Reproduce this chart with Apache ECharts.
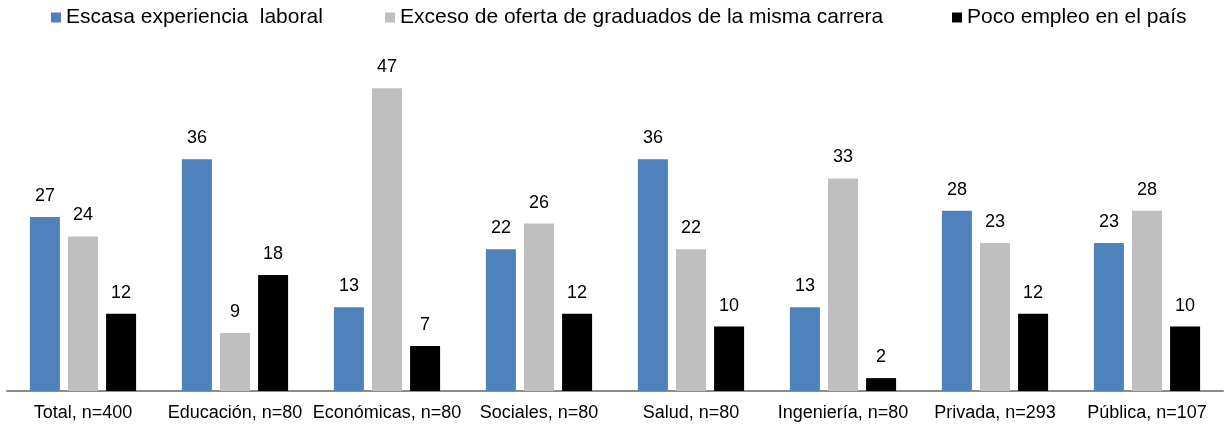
<!DOCTYPE html>
<html>
<head>
<meta charset="utf-8">
<script src="https://cdn.jsdelivr.net/npm/echarts@6/dist/echarts.min.js"></script>
<style>
  html, body { margin: 0; padding: 0; background: #fff; }
  #main { width: 1228px; height: 426px; }
</style>
</head>
<body>
<div id="main"></div>
<script>
// categorías y valores (%)
var categories = ['Total, n=400', 'Educación, n=80', 'Económicas, n=80', 'Sociales, n=80',
  'Salud, n=80', 'Ingeniería, n=80', 'Privada, n=293', 'Pública, n=107'];
var seriesNames = ['Escasa experiencia  laboral', 'Exceso de oferta de graduados de la misma carrera', 'Poco empleo en el país'];
var escasa = [27, 36, 13, 22, 36, 13, 28, 23];
var exceso = [24, 9, 47, 26, 22, 33, 23, 28];
var poco = [12, 18, 7, 12, 10, 2, 12, 10];

var colors = ['#4F81BD', '#BFBFBF', '#000000'];
var font = 'Arial, "Liberation Sans", sans-serif';

function legendAt(name, left) {
  return {
    data: [name],
    left: left,
    top: 2,
    itemWidth: 10,
    itemHeight: 10,
    itemGap: 0,
    icon: 'rect',
    textStyle: { fontFamily: font, fontSize: 21, color: '#000' }
  };
}

function makeSeries(name, data, color) {
  return {
    name: name,
    type: 'bar',
    data: data,
    barWidth: 30,
    barGap: '27%',
    itemStyle: { color: color },
    label: {
      show: true,
      position: 'top',
      distance: 12,
      fontFamily: font,
      fontSize: 18,
      color: '#000'
    }
  };
}

var chart = echarts.init(document.getElementById('main'));
chart.setOption({
  animation: false,
  legend: [
    legendAt(seriesNames[0], 46),
    legendAt(seriesNames[1], 380),
    legendAt(seriesNames[2], 947)
  ],
  grid: { left: 7, right: 5, top: 69, bottom: 35 },
  xAxis: {
    type: 'category',
    data: categories,
    axisLine: { lineStyle: { color: '#8c8c8c', width: 2 } },
    axisTick: { show: false },
    axisLabel: { fontFamily: font, fontSize: 18, color: '#000', margin: 13, interval: 0 }
  },
  yAxis: {
    type: 'value',
    min: 0,
    max: 50,
    show: false,
    splitLine: { show: false }
  },
  series: [
    makeSeries(seriesNames[0], escasa, colors[0]),
    makeSeries(seriesNames[1], exceso, colors[1]),
    makeSeries(seriesNames[2], poco, colors[2])
  ]
});
</script>
</body>
</html>
